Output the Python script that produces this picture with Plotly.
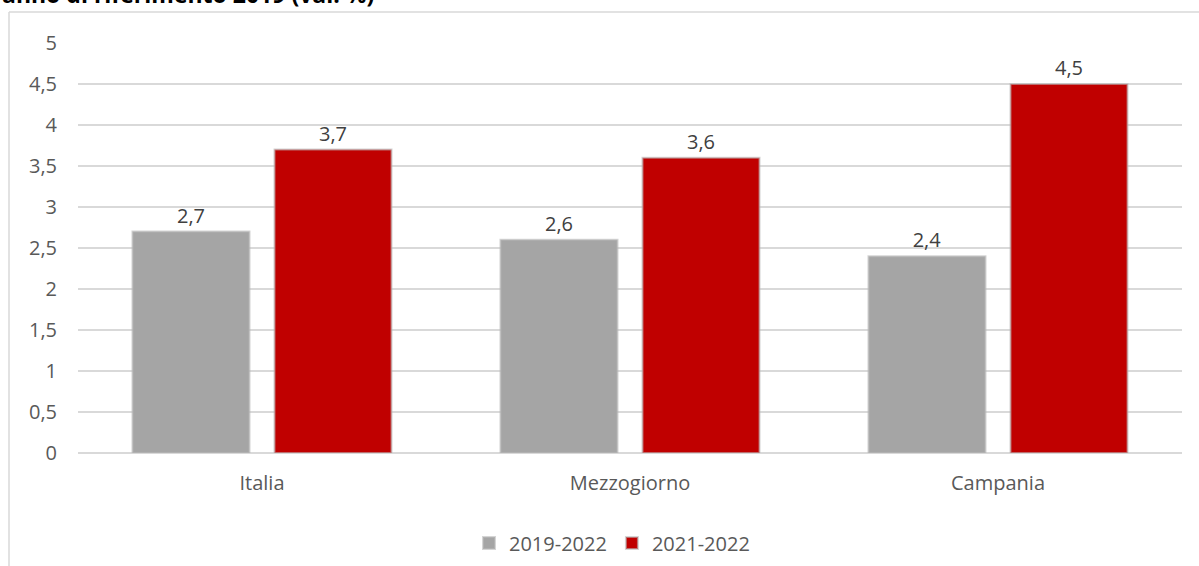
import plotly.graph_objects as go

# Aree territoriali e valori (val. %)
categorie = ["Italia", "Mezzogiorno", "Campania"]
valori_2019_2022 = [2.7, 2.6, 2.4]
valori_2021_2022 = [3.7, 3.6, 4.5]
serie = ["2019-2022", "2021-2022"]
titolo = "anno di riferimento 2019 (val. %)"

W, H = 1199, 566
L, R, T, B = 78, 17, 43, 113
pw, ph = W - L - R, H - T - B


def px_x(x):
    return (x - L) / pw


def px_y(y):
    return (H - B - y) / ph


font_fam = "'Open Sans', sans-serif"
fs = 20

fig = go.Figure()
for nome, valori, colore in [
    (serie[0], valori_2019_2022, "#a5a5a5"),
    (serie[1], valori_2021_2022, "#c00000"),
]:
    fig.add_trace(go.Bar(
        x=categorie,
        y=valori,
        name=nome,
        marker=dict(color=colore, line=dict(color="rgba(185,185,185,0.6)", width=2)),
        text=[f"{v:.1f}".replace(".", ",") for v in valori],
        textposition="outside",
        textfont=dict(family=font_fam, size=fs, color="#404040"),
        cliponaxis=False,
    ))

fig.update_layout(
    width=W,
    height=H,
    margin=dict(l=L, r=R, t=T, b=B, autoexpand=False),
    paper_bgcolor="white",
    plot_bgcolor="white",
    separators=",.",
    barmode="group",
    bargap=0.228,
    bargroupgap=0.176,
    showlegend=True,
    legend=dict(
        orientation="h",
        x=px_x(612),
        xanchor="center",
        y=px_y(543),
        yanchor="middle",
        font=dict(family=font_fam, size=fs, color="#595959"),
        itemwidth=30,
        traceorder="normal",
    ),
    xaxis=dict(
        automargin=False,
        showgrid=False,
        showline=False,
        ticks="",
        tickfont=dict(family=font_fam, size=fs, color="#595959"),
        ticklabelstandoff=16,
    ),
    yaxis=dict(
        automargin=False,
        range=[0, 5],
        tick0=0,
        dtick=0.5,
        showgrid=True,
        gridcolor="#d9d9d9",
        gridwidth=1.5,
        zeroline=True,
        zerolinecolor="#d9d9d9",
        zerolinewidth=1.5,
        showline=False,
        ticks="",
        tickfont=dict(family=font_fam, size=fs, color="#595959"),
        ticklabelstandoff=20,
    ),
    shapes=[
        dict(type="line", xref="paper", yref="paper",
             x0=px_x(9), x1=px_x(W + 5), y0=px_y(12), y1=px_y(12),
             line=dict(color="#d9d9d9", width=1.5)),
        dict(type="line", xref="paper", yref="paper",
             x0=px_x(9), x1=px_x(9), y0=px_y(12), y1=px_y(H + 5),
             line=dict(color="#d9d9d9", width=1.5)),
    ],
    annotations=[
        dict(text=f"<b>{titolo}</b>", xref="paper", yref="paper",
             x=px_x(0), xanchor="left", y=px_y(12), yanchor="bottom",
             showarrow=False,
             font=dict(family=font_fam, size=23, color="#000000")),
    ],
)

fig.write_html("out.html")
